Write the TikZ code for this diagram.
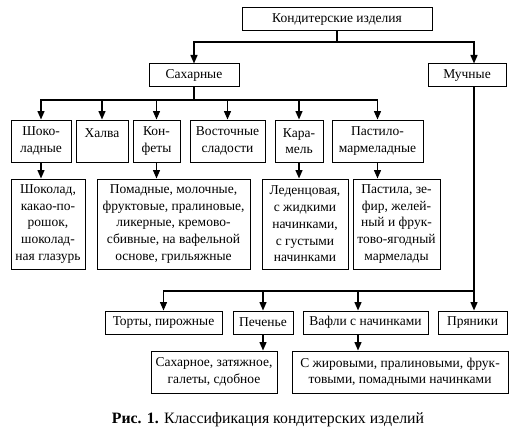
\documentclass[tikz,border=0pt]{standalone}
\usepackage{fontspec}
\setmainfont{Liberation Serif}
\usetikzlibrary{arrows.meta,calc}
\newcommand{\myfs}{\fontsize{13.5}{16.7}\selectfont}
\begin{document}
\begin{tikzpicture}[x=1pt,y=-1pt,
 bx/.style={draw, line width=1pt, inner sep=0pt, align=center, font=\myfs},
 ar/.style={line width=1.4pt, -{Triangle[length=8.5pt,width=7pt]}},
 ln/.style={line width=1.4pt}]
\useasboundingbox (0,0) rectangle (518,433);
% level 0/1
\node[bx, minimum width=190, minimum height=23] (top) at (337,19.5) {Кондитерские изделия};
\node[bx, minimum width=90, minimum height=23] (sah) at (194,75.5) {Сахарные};
\node[bx, minimum width=78, minimum height=23] (muc) at (467,75.5) {Мучные};
% row 2
\node[bx, minimum width=60, minimum height=42] (sho) at (41,141) {Шоко-\\ладные};
\node[bx, minimum width=52, minimum height=42] (hal) at (102,141) {Халва\\\phantom{Х}};
\node[bx, minimum width=47, minimum height=42] (kon) at (156.5,141) {Кон-\\феты};
\node[bx, minimum width=75, minimum height=42] (vos) at (227.5,141) {Восточные\\сладости};
\node[bx, minimum width=48, minimum height=42] (kar) at (299,141) {Кара-\\мель};
\node[bx, minimum width=91, minimum height=42] (pas) at (377.5,141) {Пастило-\\мармеладные};
% row 3
\node[bx, minimum width=74, minimum height=90] (shd) at (48,224) {Шоколад,\\какао-по-\\рошок,\\шоколад-\\ная глазурь};
\node[bx, minimum width=153, minimum height=90] (pom) at (173.5,224) {Помадные, молочные,\\фруктовые, пралиновые,\\ликерные, кремово-\\сбивные, на вафельной\\основе, грильяжные};
\node[bx, minimum width=86, minimum height=90] (led) at (305,224) {Леденцовая,\\с жидкими\\начинками,\\с густыми\\начинками};
\node[bx, minimum width=87, minimum height=90] (pst) at (396.5,224) {Пастила, зе-\\фир, желей-\\ный и фрук-\\тово-ягодный\\мармелады};
% row 4
\node[bx, minimum width=117, minimum height=23] (tor) at (163.5,322.5) {Торты, пирожные};
\node[bx, minimum width=60, minimum height=23] (pec) at (263,322.5) {Печенье};
\node[bx, minimum width=125, minimum height=23] (vaf) at (365.5,322.5) {Вафли с начинками};
\node[bx, minimum width=69, minimum height=23] (pry) at (472.5,322.5) {Пряники};
% row 5
\node[bx, minimum width=126, minimum height=42] (sac) at (214,372) {Сахарное, затяжное,\\галеты, сдобное};
\node[bx, minimum width=216, minimum height=42] (szh) at (400,372) {С жировыми, пралиновыми, фрук-\\товыми, помадными начинками};
% caption
\node[font=\fontsize{15.8}{18}\selectfont, inner sep=0pt] (cap) at (268,420) {\textbf{Рис. 1.} Классификация кондитерских изделий};
% connectors
\coordinate (j1) at (337,42);
\coordinate (mx) at (474,0);
\draw[ln] (top.south) -- (j1);
\draw[ar] (j1) -| (sah.north);
\draw[ar] (j1) -| (mx |- muc.north);
\coordinate (j2) at (194,100);
\draw[ln] (sah.south) -- (j2);
\foreach \c in {sho,hal,kon,vos,kar,pas} {\draw[ar] (j2) -| (\c.north);}
\draw[ar] (sho.south) -- (sho.south |- shd.north);
\draw[ar] (kon.south) -- (kon.south |- pom.north);
\draw[ar] (kar.south) -- (kar.south |- led.north);
\draw[ar] (pas.south) -- (pas.south |- pst.north);
\coordinate (j3) at (474,291);
\coordinate (vx) at (358,0);
\draw[ln] (mx |- muc.south) -- (j3);
\draw[ar] (j3) -| (tor.north);
\draw[ar] (j3) -| (pec.north);
\draw[ar] (j3) -| (vx |- vaf.north);
\draw[ar] (j3) -- (j3 |- pry.north);
\draw[ar] (pec.south) -- (pec.south |- sac.north);
\draw[ar] (vx |- vaf.south) -- (vx |- szh.north);
\end{tikzpicture}
\end{document}
